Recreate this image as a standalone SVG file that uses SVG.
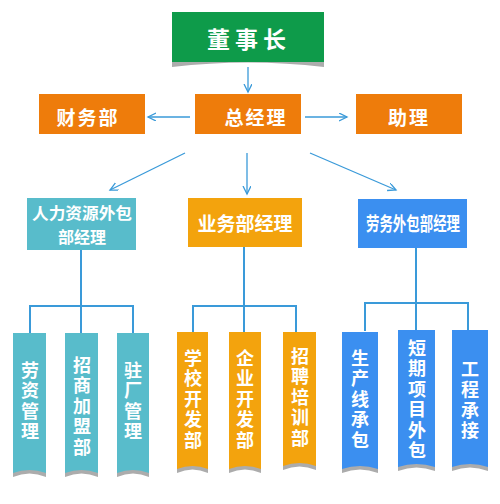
<svg xmlns="http://www.w3.org/2000/svg" width="500" height="504" viewBox="0 0 500 504">
<defs>
<style>
text{font-family:"Noto Sans CJK SC","Noto Sans",sans-serif;font-weight:bold;fill:#fff;text-anchor:middle;dominant-baseline:central}
.c{stroke:#3a9ad9;stroke-width:1.3;fill:none}
.t{stroke:#3a9ad9;stroke-width:2;fill:none}
.sh{fill:#acacac}
.g{fill:#0e9b4a}.o{fill:#ee7c0b}.tl{fill:#58bccb}.y{fill:#f3a30d}.b{fill:#3b8ff0}
.v{font-size:18px;writing-mode:vertical-rl;text-anchor:start;letter-spacing:2.5px}
</style>
<marker id="ah" markerWidth="10" markerHeight="10" refX="8" refY="4" orient="auto" markerUnits="userSpaceOnUse">
<path d="M0,0 L8,4 L0,8" fill="none" stroke="#3a9ad9" stroke-width="1.3"/>
</marker>
</defs>
<rect width="500" height="504" fill="#fff"/>
<g id="connectors">
<line class="c" x1="248" y1="67" x2="248" y2="92" marker-end="url(#ah)"/>
<line class="c" x1="190" y1="117" x2="148" y2="117" marker-end="url(#ah)"/>
<line class="c" x1="305" y1="117" x2="347" y2="117" marker-end="url(#ah)"/>
<line class="c" x1="185" y1="153" x2="110" y2="190" marker-end="url(#ah)"/>
<line class="c" x1="247" y1="153" x2="247" y2="194" marker-end="url(#ah)"/>
<line class="c" x1="310" y1="153" x2="396" y2="190" marker-end="url(#ah)"/>
<path class="t" d="M81,250 V333 M30,333 V306 H133 V333"/>
<path class="t" d="M244,247 V333 M193,333 V306 H296 V333"/>
<path class="t" d="M416,248 V331 M365,331 V303 H468 V331"/>
</g>
<g id="n-chairman">
<path class="sh" d="M172,58 H324 V67 Q248,58 172,67 Z"/>
<rect class="g" x="172" y="12" width="152" height="50"/>
<text x="249" y="38" font-size="23" letter-spacing="5">董事长</text>
</g>
<g id="n-gm">
<rect class="o" x="195" y="94" width="106" height="40"/>
<text x="256" y="116" font-size="19" letter-spacing="2">总经理</text>
</g>
<g id="n-finance">
<rect class="o" x="39" y="94" width="106" height="40"/>
<text x="88" y="116" font-size="19" letter-spacing="2">财务部</text>
</g>
<g id="n-assistant">
<rect class="o" x="356" y="94" width="106" height="40"/>
<text x="409" y="116" font-size="19" letter-spacing="2">助理</text>
</g>
<g id="n-hr">
<rect class="tl" x="27" y="198" width="109" height="52"/>
<text font-size="16"><tspan x="82" y="212" textLength="100" lengthAdjust="spacingAndGlyphs">人力资源外包</tspan><tspan x="82" y="236">部经理</tspan></text>
</g>
<g id="n-biz">
<rect class="y" x="188" y="198" width="114" height="49"/>
<text x="245" y="222" font-size="19">业务部经理</text>
</g>
<g id="n-labor">
<rect class="b" x="358" y="199" width="109" height="49"/>
<text x="413" y="222" font-size="19" textLength="94" lengthAdjust="spacingAndGlyphs">劳务外包部经理</text>
</g>
<g id="n-l1">
<path class="sh" d="M13,468 H46 V477 Q29.5,470 13,477 Z"/>
<path class="tl" d="M13,333 H46 V473 Q29.5,467 13,473 Z"/>
<text class="v" x="30" y="361">劳资管理</text>
</g>
<g id="n-l2">
<path class="sh" d="M65,468 H98 V477 Q81.5,470 65,477 Z"/>
<path class="tl" d="M65,333 H98 V473 Q81.5,467 65,473 Z"/>
<text class="v" x="82" y="356">招商加盟部</text>
</g>
<g id="n-l3">
<path class="sh" d="M117,468 H149 V477 Q133,470 117,477 Z"/>
<path class="tl" d="M117,333 H149 V473 Q133,467 117,473 Z"/>
<text class="v" x="133" y="361">驻厂管理</text>
</g>
<g id="n-m1">
<path class="sh" d="M177,464 H208 V473 Q192.5,466 177,473 Z"/>
<path class="y" d="M177,332 H208 V469 Q192.5,463 177,469 Z"/>
<text class="v" x="193" y="349">学校开发部</text>
</g>
<g id="n-m2">
<path class="sh" d="M229,464 H261 V473 Q245,466 229,473 Z"/>
<path class="y" d="M229,332 H261 V469 Q245,463 229,469 Z"/>
<text class="v" x="245" y="349">企业开发部</text>
</g>
<g id="n-m3">
<path class="sh" d="M283,461 H316 V470 Q299.5,463 283,470 Z"/>
<path class="y" d="M283,332 H316 V466 Q299.5,460 283,466 Z"/>
<text class="v" x="300" y="347">招聘培训部</text>
</g>
<g id="n-r1">
<path class="sh" d="M342,464 H378 V473 Q360,466 342,473 Z"/>
<path class="b" d="M342,332 H378 V469 Q360,463 342,469 Z"/>
<text class="v" x="360" y="349">生产线承包</text>
</g>
<g id="n-r2">
<path class="sh" d="M398,462 H435 V471 Q416.5,464 398,471 Z"/>
<path class="b" d="M398,330 H435 V467 Q416.5,461 398,467 Z"/>
<text class="v" x="417" y="339">短期项目外包</text>
</g>
<g id="n-r3">
<path class="sh" d="M452,462 H488 V471 Q470,464 452,471 Z"/>
<path class="b" d="M452,330 H488 V467 Q470,461 452,467 Z"/>
<text class="v" x="470" y="360">工程承接</text>
</g>
</svg>
